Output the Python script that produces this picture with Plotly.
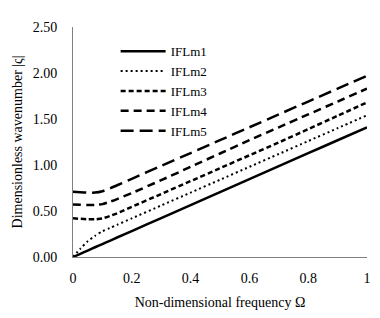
import plotly.graph_objects as go

omega = [0, 0.025, 0.05, 0.075, 0.1, 0.125, 0.15, 0.2, 0.3, 0.4, 0.5, 0.6, 0.7, 0.8, 0.9, 1.0]
iflm1 = [0, 0.035, 0.07, 0.106, 0.141, 0.176, 0.212, 0.282, 0.423, 0.564, 0.705, 0.846, 0.987, 1.128, 1.269, 1.41]
iflm2 = [0, 0.09, 0.17, 0.23, 0.28, 0.315, 0.35, 0.42, 0.56, 0.70, 0.84, 0.98, 1.12, 1.26, 1.40, 1.54]
iflm3 = [0.42, 0.415, 0.41, 0.41, 0.42, 0.445, 0.475, 0.545, 0.685, 0.825, 0.965, 1.105, 1.245, 1.39, 1.535, 1.68]
iflm4 = [0.57, 0.567, 0.565, 0.565, 0.575, 0.60, 0.63, 0.695, 0.835, 0.98, 1.125, 1.27, 1.41, 1.55, 1.69, 1.83]
iflm5 = [0.71, 0.705, 0.70, 0.70, 0.715, 0.745, 0.78, 0.85, 0.99, 1.13, 1.27, 1.41, 1.55, 1.69, 1.83, 1.97]

names = ["IFLm1", "IFLm2", "IFLm3", "IFLm4", "IFLm5"]
series = [iflm1, iflm2, iflm3, iflm4, iflm5]
dashes = ["solid", "2px,3px", "5px,3px", "8px,5px", "13px,6px"]
widths = [2.5, 2, 2.5, 2.5, 2.5]

fig = go.Figure()
for n, s, d, w in zip(names, series, dashes, widths):
    fig.add_trace(go.Scatter(x=omega, y=s, mode="lines", name=n,
                             line=dict(color="black", width=w, dash=d, shape="spline", smoothing=0.6)))

fam = "Liberation Serif, Tinos, Times New Roman, serif"
font = dict(family=fam, size=14, color="black")
lfont = dict(family=fam, size=13, color="black")
fig.update_layout(
    width=380, height=318,
    margin=dict(l=73, r=13, t=27, b=61, autoexpand=False),
    paper_bgcolor="white", plot_bgcolor="white",
    font=font,
    showlegend=True,
    legend=dict(x=0.145, y=0.96, xanchor="left", yanchor="top", bgcolor="rgba(0,0,0,0)",
                font=lfont, itemwidth=45, tracegroupgap=0),
    xaxis=dict(range=[0, 1], tickvals=[0, 0.2, 0.4, 0.6, 0.8, 1], ticktext=["0", "0.2", "0.4", "0.6", "0.8", "1"],
               showgrid=False, zeroline=False, showline=True, linecolor="#808080", linewidth=1,
               ticks="", ticklabelstandoff=8, automargin=False,
               title=dict(text="Non-dimensional frequency Ω", font=font, standoff=12)),
    yaxis=dict(range=[0, 2.5], tickvals=[0, 0.5, 1, 1.5, 2, 2.5], tickformat=".2f",
               showgrid=False, zeroline=False, showline=True, linecolor="#808080", linewidth=1,
               ticks="", ticklabelstandoff=12, automargin=False,
               title=dict(text="Dimensionless wavenumber |ς|", font=font, standoff=6)),
)
fig.write_html("out.html", config={"displayModeBar": False},
               post_script="document.body.style.margin='0';document.body.style.padding='0';")
